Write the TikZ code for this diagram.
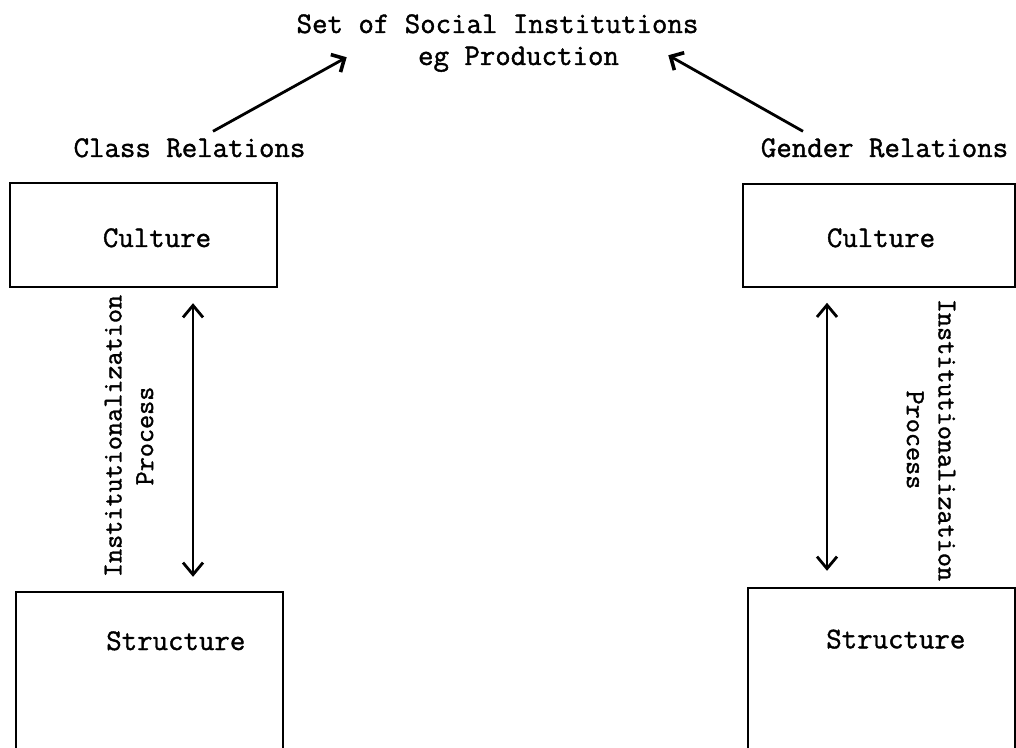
\documentclass[tikz,border=0pt]{standalone}
\usepackage{fontspec}
\newfontfamily\typer{Latin Modern Mono}[FakeBold=1.3]
\usetikzlibrary{arrows.meta}

\begin{document}
\begin{tikzpicture}[x=0.5pt, y=-0.5pt,
        word/.style={inner sep=0pt, anchor=base, font=\typer\fontsize{15}{16}\selectfont},
        side/.style={inner sep=0pt, align=center, font=\typer\fontsize{13.7}{15.8}\selectfont},
        box/.style={draw, line width=1.2pt, inner sep=0pt, minimum width=133.5pt},
        lift/.style={-{Straight Barb[length=5pt, width=10pt, line width=1.8pt]}, line width=1.4pt},
        twoway/.style={{Straight Barb[length=6pt, width=10pt, line width=1.4pt]}-{Straight Barb[length=6pt, width=10pt, line width=1.4pt]}, line width=0.9pt}]
        \useasboundingbox (0,0) rectangle (1016,748);
        \clip (0,0) rectangle (1016,748);
        \node[word] (set) at (497.5,33) {Set of Social Institutions};
        \node[word] (eg) at (518.5,65) {eg Production};
        \node[word] (cls) at (189.5,157) {Class Relations};
        \node[word] (gen) at (884.5,157) {Gender Relations};
        \node[box, minimum height=52pt] (cultL) at (143.5,235) {};
        \node[box, minimum height=104pt] (strucL) at (149.5,696) {};
        \node[box, minimum width=136pt, minimum height=51.5pt] (cultR) at (879,235.5) {};
        \node[box, minimum height=106pt] (strucR) at (881.5,694) {};
        \node[word] (cultLt) at (157,247) {Culture};
        \node[word] (strucLt) at (175.8,650) {Structure};
        \node[word] (cultRt) at (881,247) {Culture};
        \node[word] (strucRt) at (895.8,648.3) {Structure};
        \node[side, rotate=90] (procL) at (129,436) {Institutionalization\\Process};
        \node[side, rotate=-90] (procR) at (931,440) {Institutionalization\\Process};
        \coordinate (axL) at (193,0);
        \coordinate (axR) at (827,0);
        \draw[lift] ([shift={(11.75pt,3.3pt)}]cls.north) -- ([shift={(-35.5pt,1pt)}]eg.west);
        \draw[lift] ([shift={(-40.75pt,3.3pt)}]gen.north) -- ([shift={(24.5pt,2pt)}]eg.east);
        \draw[twoway, shorten <=7.5pt, shorten >=7pt] (cultL.south -| axL) -- (strucL.north -| axL);
        \draw[twoway, shorten <=7.3pt, shorten >=8pt] (cultR.south -| axR) -- (strucR.north -| axR);
\end{tikzpicture}
\end{document}
